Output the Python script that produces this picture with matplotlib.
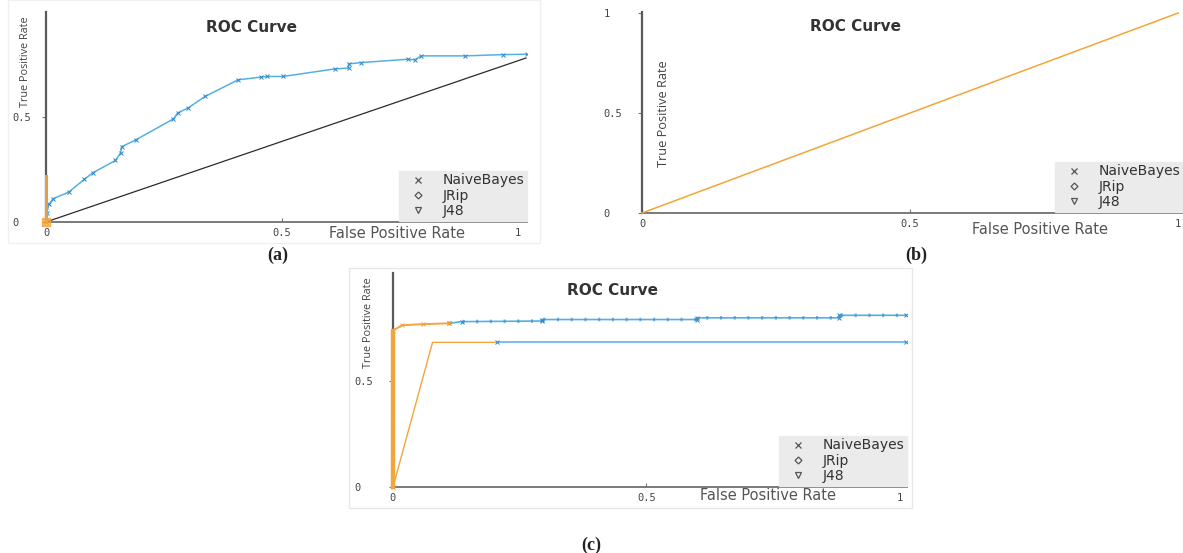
import matplotlib
matplotlib.use("Agg")
import matplotlib.pyplot as plt
from matplotlib.lines import Line2D
from matplotlib.patches import Rectangle

# ---------------- data ----------------
legend_names = ["NaiveBayes", "JRip", "J48"]
tick_vals = [0, 0.5, 1]
tick_text = ["0", "0.5", "1"]

# panel (a)
a_blue_fpr = [0.0, 0.002, 0.006, 0.015, 0.048, 0.081, 0.099, 0.147, 0.158, 0.160, 0.191,
              0.270, 0.279, 0.301, 0.337, 0.407, 0.455, 0.469, 0.502, 0.612, 0.641, 0.641,
              0.667, 0.766, 0.781, 0.795, 0.887, 0.968, 1.019]
a_blue_tpr = [0.0, 0.044, 0.084, 0.111, 0.142, 0.203, 0.234, 0.293, 0.329, 0.358, 0.392,
              0.491, 0.519, 0.543, 0.598, 0.677, 0.690, 0.693, 0.693, 0.729, 0.733, 0.753,
              0.759, 0.775, 0.772, 0.791, 0.791, 0.797, 0.799]
a_orange_fpr = [0.0, 0.0]
a_orange_tpr = [0.0, 0.22]
a_diag_fpr = [0.0, 1.017]
a_diag_tpr = [0.0, 0.781]

# panel (b)
b_orange_fpr = [0.0, 1.0]
b_orange_tpr = [0.0, 1.0]

# panel (c)
c_top_orange_fpr = [0.0, 0.0, 0.018, 0.06, 0.11]
c_top_orange_tpr = [0.0, 0.74, 0.765, 0.77, 0.774]
c_top_blue_fpr = [0.11, 0.136, 0.294, 0.294, 0.60, 0.60, 0.88, 0.88, 1.013]
c_top_blue_tpr = [0.774, 0.782, 0.785, 0.792, 0.792, 0.80, 0.80, 0.812, 0.812]
c_low_orange_fpr = [0.0, 0.078, 0.205]
c_low_orange_tpr = [0.0, 0.684, 0.684]
c_low_blue_fpr = [0.205, 1.013]
c_low_blue_tpr = [0.684, 0.684]

# ---------------- style ----------------
W, H = 1183, 553
BLUE = "#55b0e2"
BLUE_M = "#2f88cc"
ORANGE = "#f2a53a"
MONO = "DejaVu Sans Mono"
NARROW = ["Liberation Sans Narrow", "Open Sans", "DejaVu Sans"]

fig = plt.figure(figsize=(W / 100, H / 100), dpi=100)
fig.patch.set_facecolor("white")

# faint screenshot frames
fig.patches.append(Rectangle((8 / W, 1 - 243 / H), (540 - 8) / W, 243 / H,
                             transform=fig.transFigure, fill=False,
                             edgecolor="#f0f0f0", lw=1))
fig.patches.append(Rectangle((349 / W, 1 - 508 / H), (912 - 349) / W, (508 - 268) / H,
                             transform=fig.transFigure, fill=False,
                             edgecolor="#e8e8e8", lw=1))


def px_axes(x0, y0, x1, y1):
    return fig.add_axes([x0 / W, 1 - y1 / H, (x1 - x0) / W, (y1 - y0) / H])


def style_axes(ax, xlim, ylim, yticks, ylab_pad, xlabel_pos, ylabel_pos, ylabel_size,
               title_pos):
    ax.set_xlim(*xlim)
    ax.set_ylim(*ylim)
    for s in ("top", "right"):
        ax.spines[s].set_visible(False)
    ax.spines["left"].set_color("#5a5a5a")
    ax.spines["left"].set_linewidth(1.6)
    ax.spines["bottom"].set_color("#7a7a7a")
    ax.spines["bottom"].set_linewidth(1.4)
    ax.set_xticks(tick_vals)
    ax.set_xticklabels(tick_text, fontfamily=MONO, fontsize=7.5, color="#444444")
    ax.set_yticks([tick_vals[i] for i in yticks])
    ax.set_yticklabels([tick_text[i] for i in yticks], fontfamily=MONO, fontsize=7.5,
                       color="#444444")
    for lab in ax.get_yticklabels():
        lab.set_horizontalalignment("left")
    ax.tick_params(axis="x", direction="in", length=3, color="#777777", pad=4)
    ax.tick_params(axis="y", direction="out", length=3, color="#777777", pad=ylab_pad)
    ax.set_xlabel("False Positive Rate", fontsize=10.5, color="#555555",
                  fontfamily="DejaVu Sans")
    ax.xaxis.label.set_verticalalignment("center")
    ax.xaxis.set_label_coords(*xlabel_pos)
    ax.set_ylabel("True Positive Rate", fontsize=ylabel_size, color="#444444",
                  fontfamily=NARROW)
    ax.yaxis.label.set_verticalalignment("center")
    ax.yaxis.set_label_coords(*ylabel_pos)
    ax.text(title_pos[0], title_pos[1], "ROC Curve", transform=ax.transAxes,
            ha="center", va="center", fontsize=11, fontweight="bold", color="#333333")
    handles = [Line2D([], [], ls="none", marker="x", ms=5, mew=0.9, color="#555555"),
               Line2D([], [], ls="none", marker="D", ms=3.5, mew=0.9, mfc="none",
                      color="#555555"),
               Line2D([], [], ls="none", marker="v", ms=5, mew=0.9, mfc="none",
                      color="#555555")]
    leg = ax.legend(handles, legend_names, loc="lower right", bbox_to_anchor=(1, 0.005),
                    borderaxespad=0, fontsize=10, frameon=True, fancybox=False,
                    facecolor="#ebebeb", edgecolor="#ebebeb", framealpha=1,
                    handlelength=2.3, handletextpad=0.6, labelspacing=0.1,
                    borderpad=0.2)
    for t in leg.get_texts():
        t.set_color("#333333")
    ax.patch.set_alpha(0)


# ---------------- panel (a) ----------------
axa = px_axes(46, 12, 527, 222)
axa.plot(a_diag_fpr, a_diag_tpr, color="#2b2b2b", lw=0.9, zorder=2)
axa.plot(a_blue_fpr, a_blue_tpr, color=BLUE, lw=1.1, marker="x", ms=3, mew=0.7,
         mec=BLUE_M, zorder=3)
axa.plot(a_orange_fpr, a_orange_tpr, color="#d9a24a", lw=2.2, zorder=4, clip_on=False)
axa.plot([0], [0], ls="none", marker="s", ms=6, color=ORANGE, alpha=0.8, zorder=4,
         clip_on=False)
style_axes(axa, (0, 1.019), (0, 1.0), [0, 1], 21.5,
           (0.73, -0.057), (-0.0416, 0.762), 7.8, (0.428, 0.924))

# ---------------- panel (b) ----------------
axb = px_axes(642, 12, 1183, 213)
axb.plot(b_orange_fpr, b_orange_tpr, color=ORANGE, lw=1.1, zorder=3, clip_on=False)
style_axes(axb, (0, 1.009), (0, 1.005), [0, 1, 2], 24.5,
           (0.736, -0.08), (0.039, 0.4925), 9.2, (0.394, 0.93))

# ---------------- panel (c) ----------------
axc = px_axes(393, 273, 907, 487)
axc.plot(c_low_orange_fpr, c_low_orange_tpr, color=ORANGE, lw=1.0, zorder=3)
axc.plot(c_low_blue_fpr, c_low_blue_tpr, color=BLUE, lw=1.1, marker="x", ms=3,
         mew=0.7, mec=BLUE_M, zorder=3)
axc.plot(c_top_blue_fpr, c_top_blue_tpr, color=BLUE, lw=1.2, marker="x", ms=3,
         mew=0.7, mec=BLUE_M, zorder=3)
axc.plot(c_top_blue_fpr, c_top_blue_tpr, color=BLUE_M, lw=2.6, ls=(0, (0.6, 3.2)),
         alpha=0.6, zorder=3)
axc.plot(c_top_orange_fpr, c_top_orange_tpr, color=ORANGE, lw=1.4, marker="x", ms=3,
         mew=0.7, zorder=4, clip_on=False)
axc.plot(c_top_orange_fpr[:2], c_top_orange_tpr[:2], color=ORANGE, lw=3.2, zorder=4,
         clip_on=False)
style_axes(axc, (0, 1.014), (0, 1.012), [0, 1], 25.0,
           (0.73, -0.042), (-0.0486, 0.766), 7.8, (0.428, 0.916))

# ---------------- captions ----------------
for x, y, s in [(278, 255, "(a)"), (916, 255, "(b)"), (591, 545, "(c)")]:
    fig.text(x / W, 1 - y / H, s, ha="center", va="center", fontsize=13,
             fontfamily=["Liberation Serif", "DejaVu Serif"], fontweight="bold",
             color="#222222")

fig.savefig("out.png", dpi=100, facecolor="white")
